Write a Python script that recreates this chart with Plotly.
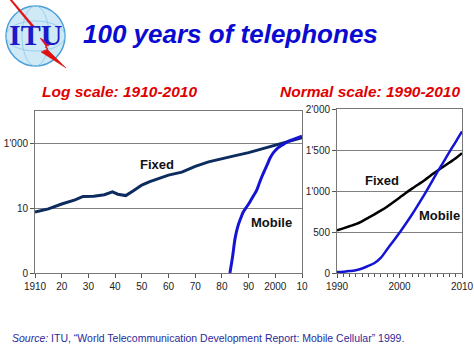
import plotly.graph_objects as go

W, H = 474, 355

# ---- Data (millions of lines) ----
log_fixed_years = [1910, 1915, 1920, 1925, 1928, 1932, 1936, 1939, 1941, 1944, 1947, 1950,
                   1953, 1956, 1960, 1965, 1970, 1975, 1980, 1985, 1990, 1995, 2000, 2005, 2010]
log_fixed_vals = [7.6, 9.5, 13.5, 18, 23, 23.5, 26, 32, 27, 24.5, 35, 52,
                  66, 80, 105, 130, 195, 270, 345, 420, 519, 673, 918, 1188, 1500]

log_mobile_years = [1983, 1984, 1985, 1986, 1987, 1988, 1989, 1990, 1991, 1992, 1993, 1994,
                    1995, 1996, 1997, 1998, 1999, 2000, 2001, 2002, 2003, 2004, 2005, 2006,
                    2007, 2008, 2009, 2010]
log_mobile_vals = [0.1, 0.32, 1.26, 2.8, 4.8, 7.6, 10.2, 13.5, 18.6, 25.7, 35.5, 59,
                   95, 148, 224, 347, 479, 603, 724, 832, 933, 1047, 1175, 1259,
                   1349, 1445, 1549, 1660]

lin_years = list(range(1990, 2011))
lin_fixed = [519, 545, 570, 595, 630, 673, 715, 760, 808, 862, 918, 975, 1029, 1080,
             1131, 1188, 1245, 1295, 1347, 1400, 1461]
lin_mobile = [11, 16, 23, 34, 55, 87, 122, 184, 286, 388, 490, 600, 714, 835,
              959, 1090, 1224, 1350, 1478, 1600, 1727]

log_xtick_vals = list(range(1910, 2011, 10))
log_xtick_text = ["1910", "20", "30", "40", "50", "60", "70", "80", "90", "2000", "10"]
log_ytick_vals = [0.1, 10, 1000]
log_ytick_text = ["0", "10", "1'000"]
lin_ytick_vals = [0, 500, 1000, 1500, 2000]
lin_ytick_text = ["0", "500", "1'000", "1'500", "2'000"]
lin_xtick_vals = [1990, 2000, 2010]

FONT = "Liberation Sans, Arial, sans-serif"


def px(x):
    return x / W


def py(y):
    return 1 - y / H


fig = go.Figure()
fig.add_trace(go.Scatter(x=log_fixed_years, y=log_fixed_vals, mode="lines",
                         line=dict(color="#0c2b5e", width=3), xaxis="x", yaxis="y",
                         showlegend=False))
fig.add_trace(go.Scatter(x=log_mobile_years, y=log_mobile_vals, mode="lines",
                         line=dict(color="#1414d2", width=3, shape="spline"), xaxis="x", yaxis="y",
                         showlegend=False))
fig.add_trace(go.Scatter(x=lin_years, y=lin_fixed, mode="lines",
                         line=dict(color="#000000", width=2.5, shape="spline"), xaxis="x2", yaxis="y2",
                         showlegend=False))
fig.add_trace(go.Scatter(x=lin_years, y=lin_mobile, mode="lines",
                         line=dict(color="#1414d2", width=2.5, shape="spline"), xaxis="x2", yaxis="y2",
                         showlegend=False))

axis_common = dict(showline=True, mirror=True, linecolor="#777777", linewidth=1,
                   gridcolor="#808080", gridwidth=1, zeroline=False, automargin=False,
                   tickfont=dict(family=FONT, size=10, color="#222222"),
                   ticks="outside", ticklen=4, tickcolor="#555555")

fig.update_layout(
    width=W, height=H,
    margin=dict(l=0, r=0, t=0, b=0, pad=0, autoexpand=False),
    paper_bgcolor="white", plot_bgcolor="white",
    xaxis=dict(domain=[px(35), px(302)], range=[1910, 2010], tickvals=log_xtick_vals,
               ticktext=log_xtick_text, showgrid=False, anchor="y", **axis_common),
    yaxis=dict(domain=[py(273), py(111)], type="log", range=[-1, 4], tickvals=log_ytick_vals,
               ticktext=log_ytick_text, showgrid=True, anchor="x", **axis_common),
    xaxis2=dict(domain=[px(337), px(462)], range=[1990, 2010], tickvals=lin_xtick_vals,
                showgrid=False, anchor="y2",
                minor=dict(dtick=1, ticks="outside", ticklen=3, tickcolor="#555555"),
                **axis_common),
    yaxis2=dict(domain=[py(273), py(109)], range=[0, 2000], tickvals=lin_ytick_vals,
                ticktext=lin_ytick_text, showgrid=True, anchor="x2", **axis_common),
)

ann = []
ann.append(dict(text="<b><i>100 years of telephones</i></b>", x=px(230), y=py(34),
                xref="paper", yref="paper", showarrow=False, xanchor="center", yanchor="middle",
                font=dict(family=FONT, size=26, color="#0a0ad0")))
ann.append(dict(text="<b><i>Log scale: 1910-2010</i></b>", x=px(40), y=py(91),
                xref="paper", yref="paper", showarrow=False, xanchor="left", yanchor="middle",
                font=dict(family=FONT, size=15.5, color="#e00000")))
ann.append(dict(text="<b><i>Normal scale: 1990-2010</i></b>", x=px(462), y=py(91),
                xref="paper", yref="paper", showarrow=False, xanchor="right", yanchor="middle",
                font=dict(family=FONT, size=15.5, color="#e00000")))
for txt, x, y in [("Fixed", 157, 164), ("Mobile", 271, 222), ("Fixed", 382, 180), ("Mobile", 439, 215)]:
    ann.append(dict(text="<b>%s</b>" % txt, x=px(x), y=py(y), xref="paper", yref="paper",
                    showarrow=False, xanchor="center", yanchor="middle",
                    font=dict(family=FONT, size=13, color="#111111")))
ann.append(dict(text="<i>Source:</i> ITU, \u201cWorld Telecommunication Development Report: Mobile Cellular\u201d 1999.",
                x=px(10), y=py(338), xref="paper", yref="paper", showarrow=False,
                xanchor="left", yanchor="middle",
                font=dict(family=FONT, size=10.5, color="#2a2a9a")))
# ITU logo text
ann.append(dict(text="<b>ITU</b>", x=px(35), y=py(35), xref="paper", yref="paper",
                showarrow=False, xanchor="center", yanchor="middle",
                font=dict(family="Liberation Serif, Times New Roman, serif", size=30, color="#1a1ac8")))
fig.update_layout(annotations=ann)

# ITU logo globe + lightning
shapes = []
shapes.append(dict(type="circle", xref="paper", yref="paper",
                   x0=px(6), x1=px(65), y0=py(66), y1=py(6),
                   fillcolor="#cfe9f7", line=dict(color="#4aa0d8", width=1.5), layer="below"))
shapes.append(dict(type="circle", xref="paper", yref="paper",
                   x0=px(22), x1=px(49), y0=py(66), y1=py(6),
                   fillcolor="rgba(0,0,0,0)", line=dict(color="#8cc8ea", width=0.8), layer="below"))
shapes.append(dict(type="circle", xref="paper", yref="paper",
                   x0=px(6), x1=px(65), y0=py(51), y1=py(21),
                   fillcolor="rgba(0,0,0,0)", line=dict(color="#8cc8ea", width=0.8), layer="below"))


def path(points):
    s = "M %.4f %.4f" % (px(points[0][0]), py(points[0][1]))
    for x, y in points[1:]:
        s += " L %.4f %.4f" % (px(x), py(y))
    return s + " Z"


shapes.append(dict(type="path", xref="paper", yref="paper",
                   path=path([(10, 0), (12, 0), (34, 26), (32, 27)]),
                   fillcolor="#e01010", line=dict(color="#e01010", width=0.5)))
shapes.append(dict(type="path", xref="paper", yref="paper",
                   path=path([(40, 38), (52, 44), (45, 47), (66, 68), (41, 52), (48, 49)]),
                   fillcolor="#e01010", line=dict(color="#e01010", width=0.5)))
fig.update_layout(shapes=shapes)

fig.write_html("out.html", config={"displayModeBar": False},
               post_script="document.body.style.margin='0';document.body.style.overflow='hidden';")
